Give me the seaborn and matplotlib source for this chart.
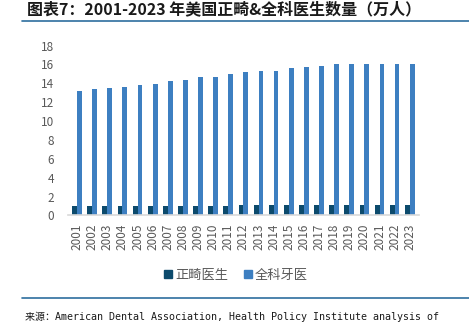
import matplotlib
matplotlib.use("Agg")
import matplotlib.pyplot as plt
import seaborn as sns
import pandas as pd
import numpy as np
from matplotlib.lines import Line2D

years = [str(y) for y in range(2001, 2024)]
ortho = [0.95, 0.95, 0.95, 0.95, 0.95, 0.95, 0.95, 0.95, 0.95, 0.95, 0.95,
         1.1, 1.1, 1.1, 1.1, 1.1, 1.1, 1.1, 1.1, 1.1, 1.1, 1.1, 1.1]
general = [13.15, 13.4, 13.5, 13.65, 13.8, 13.93, 14.28, 14.4, 14.67, 14.67, 14.95,
           15.2, 15.33, 15.33, 15.58, 15.72, 15.86, 16.0, 16.0, 16.0, 16.1, 16.1, 16.1]
series_names = ["正畸医生", "全科牙医"]
yticks = [0, 2, 4, 6, 8, 10, 12, 14, 16, 18]

df = pd.DataFrame({
    "year": years * 2,
    "value": ortho + general,
    "series": [series_names[0]] * len(years) + [series_names[1]] * len(years),
})

sns.set_style("white")
plt.rcParams['font.family'] = ['Noto Sans CJK SC', 'DejaVu Sans']

fig = plt.figure(figsize=(4.69, 3.33), dpi=100)
ax = fig.add_axes([0.145, 0.353, 0.748, 0.510])
colors = ["#0c4a6c", "#3d7fc1"]
sns.barplot(data=df, x="year", y="value", hue="series", palette=colors,
            width=0.64, ax=ax, legend=False, saturation=1, linewidth=0,
            edgecolor="none")

ax.set_ylim(0, 18)
ax.set_yticks(yticks)
ax.set_xlabel("")
ax.set_ylabel("")
ax.tick_params(axis="y", labelsize=8.5, labelcolor="#595959", length=0, pad=10)
ax.tick_params(axis="x", labelsize=8.5, labelcolor="#595959", rotation=90, length=0, pad=6)
ax.set_xticks(np.arange(len(years) + 1) - 0.5, minor=True)
ax.tick_params(axis="x", which="minor", length=3, color="#d9d9d9", width=1)
for s in ["top", "right", "left"]:
    ax.spines[s].set_visible(False)
ax.spines["bottom"].set_color("#d9d9d9")
ax.spines["bottom"].set_linewidth(1.2)
ax.set_xlim(-0.6, len(years) - 0.4)

handles = [Line2D([0], [0], marker="s", linestyle="", markersize=6,
                  markerfacecolor=c, markeredgecolor=c) for c in colors]
fig.legend(handles, series_names, loc="center", bbox_to_anchor=(0.5, 1 - 275 / 333),
           ncol=2, frameon=False, fontsize=9.5, labelcolor="#595959",
           handletextpad=0.0, columnspacing=1.0, handlelength=1.0)

fig.text(27 / 469, 1 - 9 / 333, "图表7：2001-2023 年美国正畸&全科医生数量（万人）",
         fontsize=11.5, fontweight="bold", style="italic", color="#1a1a1a",
         va="center", ha="left")
fig.add_artist(Line2D([22 / 469, 1], [1 - 20.5 / 333, 1 - 20.5 / 333],
                      color="#2e6e9e", linewidth=1.2, transform=fig.transFigure))
fig.add_artist(Line2D([22 / 469, 1], [1 - 298 / 333, 1 - 298 / 333],
                      color="#2e6e9e", linewidth=1.2, transform=fig.transFigure))
fig.text(25 / 469, 1 - 317 / 333,
         "来源：American Dental Association, Health Policy Institute analysis of",
         fontsize=7.2, color="#1a1a1a", va="center", ha="left",
         family=["DejaVu Sans Mono", "Noto Sans CJK SC"])

fig.savefig("out.png", dpi=100)
